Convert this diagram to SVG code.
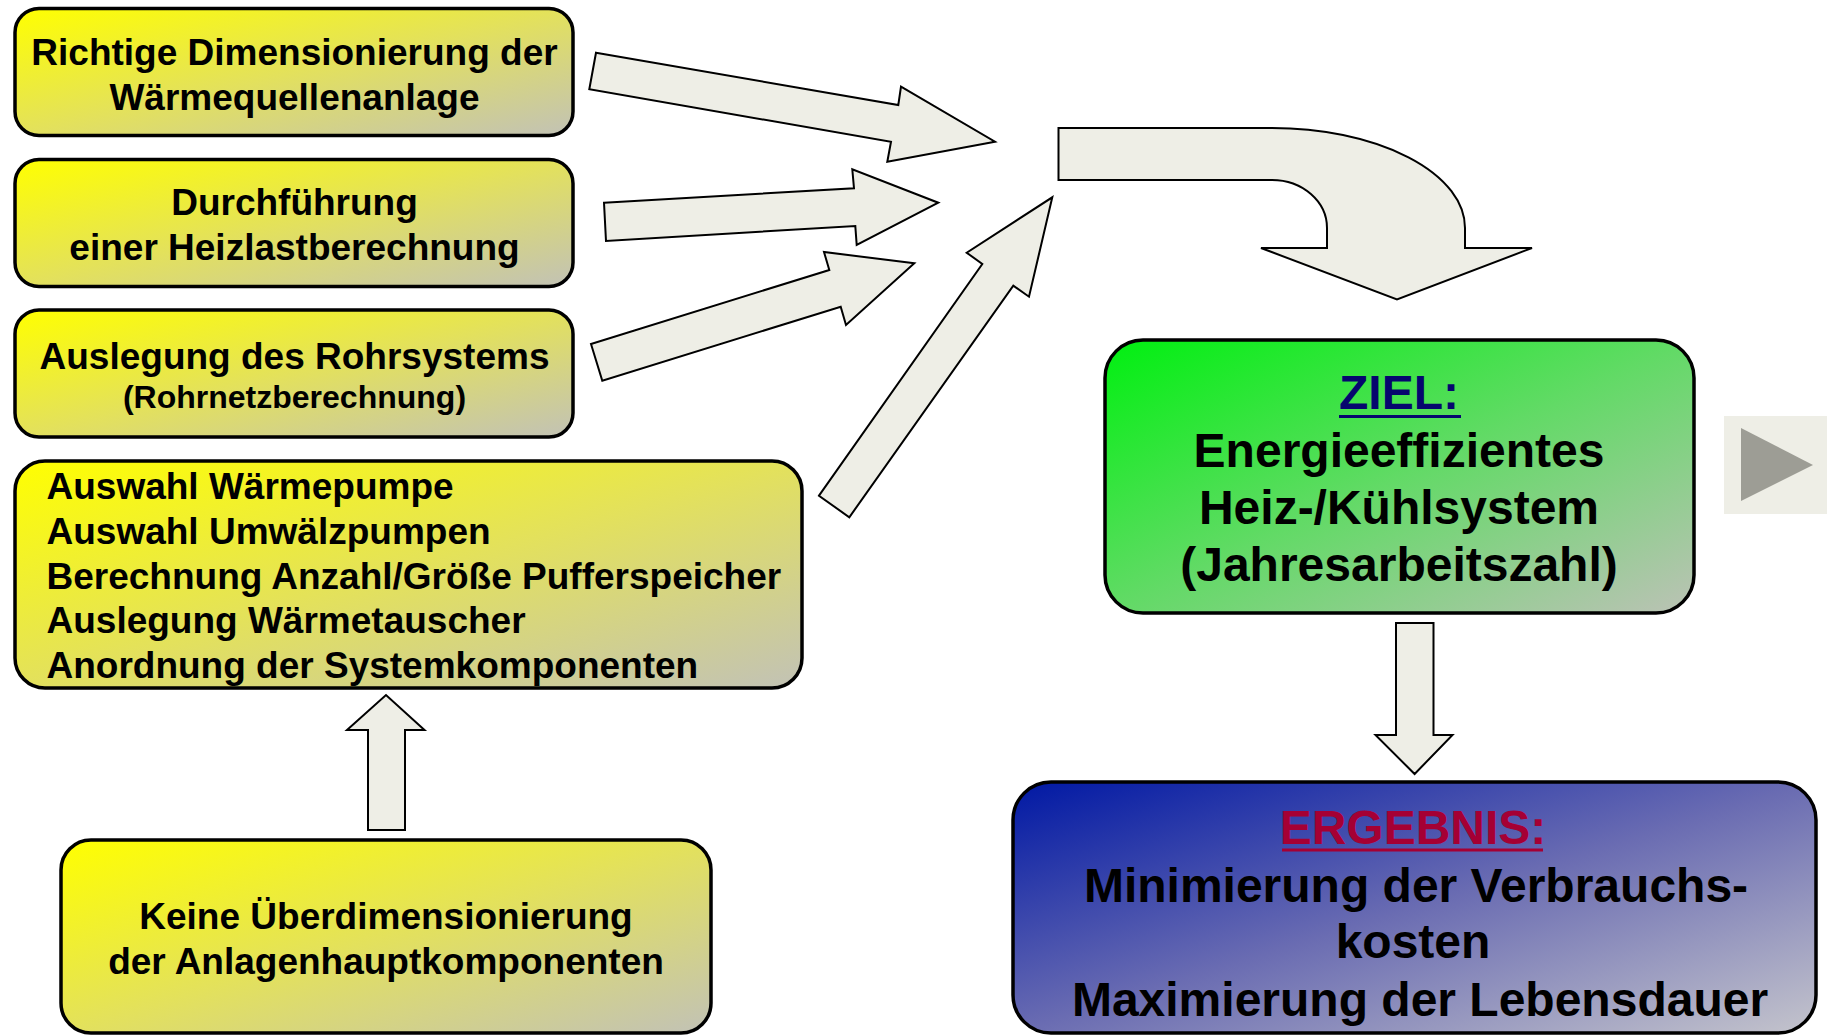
<svg xmlns="http://www.w3.org/2000/svg" width="1827" height="1036" viewBox="0 0 1827 1036">
<defs>
<linearGradient id="gy" x1="0" y1="0" x2="1" y2="1"><stop offset="0" stop-color="#ffff00"/><stop offset="0.5" stop-color="#e3e15c"/><stop offset="1" stop-color="#c2c2b6"/></linearGradient>
<linearGradient id="gg" x1="0" y1="0" x2="1" y2="1"><stop offset="0" stop-color="#00f010"/><stop offset="0.5" stop-color="#62da66"/><stop offset="1" stop-color="#bcc2b6"/></linearGradient>
<linearGradient id="gb" x1="0" y1="0" x2="1" y2="1"><stop offset="0" stop-color="#0018a4"/><stop offset="0.5" stop-color="#6a6cb2"/><stop offset="1" stop-color="#c4c4cc"/></linearGradient>
<style>
.box{stroke:#000;stroke-width:3.5}
.y{fill:url(#gy)}
.t{font-family:"Liberation Sans",Arial,sans-serif;font-weight:bold;fill:#000}
.c{text-anchor:middle}
.s37{font-size:37px}
.s48{font-size:48px}
.arr{fill:#eeeee6;stroke:#000;stroke-width:2;stroke-linejoin:miter}
</style>
</defs>
<rect width="1827" height="1036" fill="#fff"/>
<g id="connectors">
<polygon class="arr" points="596,52.7 898.3,105 901,86.7 995,141.7 887.3,161.7 891,141.7 589.3,89.3"/>
<polygon class="arr" points="604,202.7 854,188.3 852.3,169.3 938.3,202.7 856.7,245 855.3,226 606,241"/>
<polygon class="arr" points="591,344 829.3,270 824,252 914.3,263.3 846,325 840.7,306.7 602.3,380.7"/>
<polygon class="arr" points="819,495.7 982.3,264 966.7,252.7 1052.3,197.3 1029,296.7 1013.3,285.7 849.3,517.3"/>
<path class="arr" d="M1058.5,128 L1272,128 A193,100 0 0 1 1465,228 L1465,248 L1532,248 L1397,299.5 L1261,248 L1327,248 L1327,228 A55,48 0 0 0 1272,180 L1058.5,180 Z"/>
<polygon class="arr" points="1396,623 1433.5,623 1433.5,735 1452.5,735 1414.6,774 1375.5,735 1396,735"/>
<polygon class="arr" points="368,830 368,730 347,730 386,695 424.5,730 405,730 405,830"/>
</g>
<g id="n1">
<rect class="box y" x="15" y="8.5" width="558" height="127" rx="24"/>
<text class="t c s37" x="294.5" y="64.5">Richtige Dimensionierung der</text>
<text class="t c s37" x="294.5" y="109.5">Wärmequellenanlage</text>
</g>
<g id="n2">
<rect class="box y" x="15" y="159.5" width="558" height="127" rx="24"/>
<text class="t c s37" x="294.5" y="215">Durchführung</text>
<text class="t c s37" x="294.5" y="260">einer Heizlastberechnung</text>
</g>
<g id="n3">
<rect class="box y" x="15" y="310" width="558" height="127" rx="24"/>
<text class="t c s37" x="294.5" y="369">Auslegung des Rohrsystems</text>
<text class="t c" x="294.5" y="408" font-size="32">(Rohrnetzberechnung)</text>
</g>
<g id="n4">
<rect class="box y" x="15" y="461" width="787" height="227" rx="30"/>
<text class="t s37" x="46.5" y="499">Auswahl Wärmepumpe</text>
<text class="t s37" x="46.5" y="544">Auswahl Umwälzpumpen</text>
<text class="t s37" x="46.5" y="589">Berechnung Anzahl/Größe Pufferspeicher</text>
<text class="t s37" x="46.5" y="633">Auslegung Wärmetauscher</text>
<text class="t s37" x="46.5" y="678">Anordnung der Systemkomponenten</text>
</g>
<g id="n5">
<rect class="box y" x="61" y="840" width="650" height="193" rx="30"/>
<text class="t c s37" x="386" y="929">Keine Überdimensionierung</text>
<text class="t c s37" x="386" y="974">der Anlagenhauptkomponenten</text>
</g>
<g id="ziel">
<rect class="box" fill="url(#gg)" x="1105" y="340" width="589" height="273" rx="38"/>
<text class="t c s48" x="1399" y="409" style="fill:#06066e">ZIEL:</text>
<rect x="1339" y="415" width="122" height="3" fill="#06066e"/>
<text class="t c s48" x="1399" y="467">Energieeffizientes</text>
<text class="t c s48" x="1399" y="524">Heiz-/Kühlsystem</text>
<text class="t c s48" x="1399" y="581">(Jahresarbeitszahl)</text>
</g>
<g id="ergebnis">
<rect class="box" fill="url(#gb)" x="1013" y="782" width="803" height="251" rx="38"/>
<text class="t c s48" x="1413" y="843.5" style="fill:#a50034">ERGEBNIS:</text>
<rect x="1282" y="848.5" width="261" height="3" fill="#a50034"/>
<text class="t c s48" x="1416" y="902">Minimierung der Verbrauchs-</text>
<text class="t c s48" x="1413" y="958">kosten</text>
<text class="t c s48" x="1420" y="1016">Maximierung der Lebensdauer</text>
</g>
<g id="play">
<rect x="1724" y="416" width="103" height="98" fill="#eeeee6"/>
<polygon points="1741,428 1741,501 1813,465" fill="#9d9d95"/>
</g>
</svg>
